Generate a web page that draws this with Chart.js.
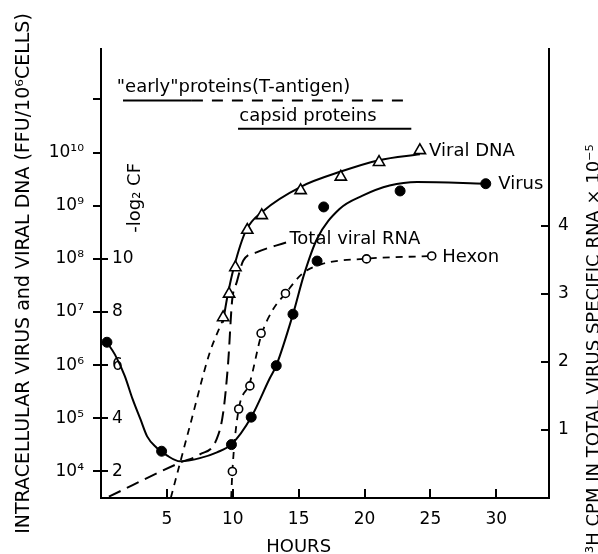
<!DOCTYPE html>
<html>
<head>
<meta charset="utf-8">
<script src="https://cdn.jsdelivr.net/npm/chart.js@4/dist/chart.umd.min.js"></script>
<style>
html,body{margin:0;padding:0;background:#fff;}
canvas{display:block;}
</style>
</head>
<body>
<canvas id="c" width="598" height="554"></canvas>
<script>
// ---- axis ticks ----
const hourTicks = [5, 10, 15, 20, 25, 30];
const logTickValues = [1e4, 1e5, 1e6, 1e7, 1e8, 1e9, 1e10, 1e11];
const logTickLabels = ['10⁴', '10⁵', '10⁶', '10⁷', '10⁸', '10⁹', '10¹⁰', ''];
const cfTicks = [2, 4, 6, 8, 10];
const cpmTicks = [1, 2, 3, 4];

// ---- Virus (FFU / 10^6 cells) ----
const virusHours  = [0.45, 4.6, 9.9, 11.4, 13.3, 14.57, 16.4, 16.9, 22.7, 29.2];
const virusValues = [2.7e6, 2.4e4, 3.2e4, 1.05e5, 9.8e5, 9.1e6, 9.1e7, 9.5e8, 1.9e9, 2.6e9];
const virusCurveHours  = [0.45, 1.06, 1.8, 2.4, 3.0, 3.5, 4.2, 5.0, 6.0, 7.5, 8.8, 9.9, 11.4, 12.8, 13.3, 14.57, 15.4, 16.4, 18.1, 19.85, 21.9, 24, 29.2];
const virusCurveValues = [2.69e6, 1.58e6, 6.3e5, 2.29e5, 9.5e4, 4.57e4, 2.82e4, 2.0e4, 1.55e4, 1.78e4, 2.29e4, 3.24e4, 1.05e5, 5.6e5, 9.8e5, 9.1e6, 5.0e7, 2.4e8, 8.7e8, 1.55e9, 2.4e9, 2.8e9, 2.6e9];

// ---- Viral DNA ----
const dnaHours  = [9.27, 9.72, 10.2, 11.1, 12.2, 15.15, 18.2, 21.1, 24.2];
const dnaValues = [7.9e6, 2.2e7, 6.9e7, 3.5e8, 6.6e8, 1.95e9, 3.5e9, 6.6e9, 1.1e10];
const dnaCurveHours  = [9.25, 9.6, 10.1, 11.0, 12.3, 15.2, 18.2, 21.1, 24.2];
const dnaCurveValues = [6.3e6, 2.0e7, 7.1e7, 3.4e8, 7.9e8, 2.3e9, 4.4e9, 7.2e9, 9.3e9];
const dnaEarlyHours  = [5.3, 6.74, 8.26, 9.25];
const dnaEarlyValues = [3.2e3, 7.1e4, 1.74e6, 7.1e6];

// ---- Total viral RNA (3H cpm x 10^-5) ----
const rnaHours  = [0.6, 6.0, 7.5, 8.77, 9.27, 9.65, 9.95, 10.3, 10.8, 11.8, 14.1];
const rnaValues = [0.02, 0.52, 0.64, 0.86, 1.25, 1.99, 2.9, 3.17, 3.49, 3.61, 3.76];

// ---- Hexon (-log2 CF) ----
const hexonHours  = [9.97, 10.45, 11.3, 12.15, 14.0, 20.15, 25.1];
const hexonValues = [2.0, 4.35, 5.22, 7.2, 8.7, 10.0, 10.11];
const hexonCurveHours  = [9.88, 9.97, 10.4, 11.3, 12.15, 13.0, 14.0, 15.3, 16.8, 19.9, 25.1];
const hexonCurveValues = [1.0, 2.0, 4.2, 5.35, 7.1, 8.05, 8.7, 9.45, 9.81, 10.0, 10.11];

// ---- protein synthesis periods ----
const earlySolidHours  = [1.67, 6.9];
const earlyDashedHours = [6.9, 23.55];
const earlyLevel = 9.6e10;
const capsidHours = [10.4, 23.55];
const capsidLevel = 2.8e10;

// ---- annotation texts ----
const noteTexts = ['"early"proteins(T-antigen)', 'capsid proteins', 'Viral DNA', 'Virus', 'Total viral RNA', 'Hexon'];
const noteHours = [1.2, 10.5, 24.9, 30.15, 14.3, 25.9];
const noteLevels = [1.41e11, 4.0e10, 8.7e9, 2.1e9, 1.9e8, 8.7e7];

const pts = (xs, ys) => xs.map((x, i) => ({x: x, y: ys[i]}));
const FONT = '"DejaVu Sans", sans-serif';
Chart.defaults.font.family = FONT;
Chart.defaults.color = '#000';

const textPlugin = {
  id: 'texts',
  afterDraw(chart) {
    const c = chart.ctx, xs = chart.scales.x, ys = chart.scales.y;
    c.save();
    c.fillStyle = '#000';
    c.font = '18px ' + FONT;
    c.textAlign = 'left';
    c.textBaseline = 'alphabetic';
    noteTexts.forEach((t, i) => {
      c.fillText(t, xs.getPixelForValue(noteHours[i]), ys.getPixelForValue(noteLevels[i]));
    });
    // x axis title
    c.textAlign = 'center';
    c.fillText('HOURS', xs.getPixelForValue(15), 552);
    // inner axis title
    c.save();
    c.translate(xs.getPixelForValue(2.95), ys.getPixelForValue(3.1e8));
    c.rotate(-Math.PI / 2);
    c.textAlign = 'left';
    c.fillText('-log₂ CF', 0, 0);
    c.restore();
    // right axis title
    c.save();
    c.translate(599, 553);
    c.rotate(-Math.PI / 2);
    c.textAlign = 'left';
    c.fillText('³H CPM IN TOTAL VIRUS SPECIFIC RNA × 10⁻⁵', 0, 0);
    c.restore();
    c.restore();
  }
};

const lineBase = {borderColor: '#000', borderWidth: 2, pointRadius: 0, fill: false, cubicInterpolationMode: 'monotone'};

new Chart(document.getElementById('c'), {
  type: 'line',
  data: {
    datasets: [
      {label: 'Virus', data: pts(virusHours, virusValues), yAxisID: 'y', showLine: false,
       pointRadius: 5, pointBackgroundColor: '#000', pointBorderColor: '#000', pointBorderWidth: 1},
      {label: 'Viral DNA', data: pts(dnaHours, dnaValues), yAxisID: 'y', showLine: false,
       pointStyle: 'triangle', pointRadius: 6.5, pointBackgroundColor: '#fff', pointBorderColor: '#000', pointBorderWidth: 1.6},
      {label: 'Hexon', data: pts(hexonHours, hexonValues), yAxisID: 'yCF', showLine: false,
       pointRadius: 4, pointBackgroundColor: '#fff', pointBorderColor: '#000', pointBorderWidth: 1.6},
      Object.assign({label: 'Virus curve', data: pts(virusCurveHours, virusCurveValues), yAxisID: 'y'}, lineBase),
      Object.assign({label: 'DNA curve', data: pts(dnaCurveHours, dnaCurveValues), yAxisID: 'y'}, lineBase),
      Object.assign({label: 'DNA early', data: pts(dnaEarlyHours, dnaEarlyValues), yAxisID: 'y'}, lineBase, {borderDash: [7, 6], borderWidth: 1.8}),
      Object.assign({label: 'Total viral RNA', data: pts(rnaHours, rnaValues), yAxisID: 'y2'}, lineBase, {borderDash: [13, 7]}),
      Object.assign({label: 'Hexon curve', data: pts(hexonCurveHours, hexonCurveValues), yAxisID: 'yCF'}, lineBase, {borderDash: [7, 6], borderWidth: 1.8}),
      Object.assign({label: 'early solid', data: pts(earlySolidHours, [earlyLevel, earlyLevel]), yAxisID: 'y'}, lineBase, {cubicInterpolationMode: 'default', tension: 0}),
      Object.assign({label: 'early dashed', data: pts(earlyDashedHours, [earlyLevel, earlyLevel]), yAxisID: 'y'}, lineBase, {cubicInterpolationMode: 'default', tension: 0, borderDash: [11, 9]}),
      Object.assign({label: 'capsid', data: pts(capsidHours, [capsidLevel, capsidLevel]), yAxisID: 'y'}, lineBase, {cubicInterpolationMode: 'default', tension: 0})
    ]
  },
  options: {
    responsive: false,
    devicePixelRatio: 1,
    animation: false,
    layout: {padding: {top: 49, left: 0, right: 0, bottom: 0}},
    plugins: {legend: {display: false}, tooltip: {enabled: false}},
    scales: {
      x: {
        type: 'linear', position: 'bottom', min: 0, max: 34, bounds: 'data',
        afterBuildTicks: s => { s.ticks = hourTicks.map(v => ({value: v})); },
        afterFit: s => { s.height = 56; },
        ticks: {font: {size: 17}, color: '#000', padding: 20, autoSkip: false, maxRotation: 0, callback: v => String(v)},
        grid: {drawOnChartArea: false, drawTicks: true, tickLength: -9, color: '#000', lineWidth: 2},
        border: {display: true, color: '#000', width: 2}
      },
      y: {
        type: 'logarithmic', position: 'left', weight: 1, bounds: 'data',
        min: Math.pow(10, 3.5), max: Math.pow(10, 11.95),
        afterBuildTicks: s => { s.ticks = logTickValues.map(v => ({value: v})); },
        afterFit: s => { s.width = 101; },
        ticks: {font: {size: 17}, color: '#000', padding: 9, autoSkip: false, callback: (v, i) => logTickLabels[i]},
        grid: {drawOnChartArea: false, drawTicks: true, tickLength: 8, color: '#000', lineWidth: 2},
        border: {display: true, color: '#000', width: 2},
        title: {display: true, text: 'INTRACELLULAR VIRUS and VIRAL DNA (FFU/10⁶CELLS)', color: '#000',
                font: {size: 19, family: FONT, lineHeight: 1.2}, padding: {top: 12.6, bottom: 0}}
      },
      yCF: {
        type: 'linear', position: 'left', weight: 0, bounds: 'data', min: 1, max: 17.9,
        afterBuildTicks: s => { s.ticks = cfTicks.map(v => ({value: v})); },
        afterFit: s => { s.width = 0; },
        ticks: {mirror: true, font: {size: 17}, color: '#000', padding: 11, autoSkip: false, callback: v => String(v)},
        grid: {drawOnChartArea: false, drawTicks: true, tickLength: -7, color: '#000', lineWidth: 2},
        border: {display: false}
      },
      y2: {
        type: 'linear', position: 'right', bounds: 'data', min: 0, max: 6.6,
        afterBuildTicks: s => { s.ticks = cpmTicks.map(v => ({value: v})); },
        afterFit: s => { s.width = 49; },
        ticks: {font: {size: 17}, color: '#000', padding: 17, autoSkip: false, callback: v => String(v)},
        grid: {drawOnChartArea: false, drawTicks: true, tickLength: -8, color: '#000', lineWidth: 2},
        border: {display: true, color: '#000', width: 2}
      }
    }
  },
  plugins: [textPlugin]
});
</script>
</body>
</html>
